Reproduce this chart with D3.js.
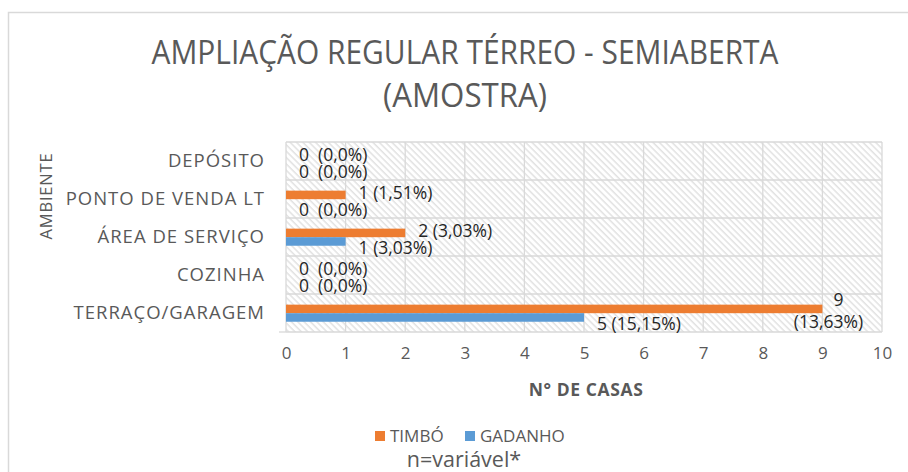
<!DOCTYPE html>
<html>
<head>
<meta charset="utf-8">
<script src="https://cdn.jsdelivr.net/npm/d3@7"></script>
<style>
  body { margin: 0; background: #fff; }
  text { font-family: "Open Sans", sans-serif; }
</style>
</head>
<body>
<div id="chart"></div>
<script>
/* DATA */
const categories = ["DEPÓSITO", "PONTO DE VENDA LT", "ÁREA DE SERVIÇO", "COZINHA", "TERRAÇO/GARAGEM"];
const series = ["TIMBÓ", "GADANHO"];
const timbo = [0, 1, 2, 0, 9];
const gadanho = [0, 0, 1, 0, 5];
const timboPct = ["0,0%", "1,51%", "3,03%", "0,0%", "13,63%"];
const gadanhoPct = ["0,0%", "0,0%", "3,03%", "0,0%", "15,15%"];
const xTicks = [0, 1, 2, 3, 4, 5, 6, 7, 8, 9, 10];

/* CONSTANTS */
const width = 908, height = 472;
const margin = { top: 142, left: 286, right: 26, bottom: 140 };
const colors = { "TIMBÓ": "#ED7D31", "GADANHO": "#5B9BD5" };
const textColor = "#595959";
const gridColor = "#d9d9d9";

const svg = d3.select("#chart").append("svg")
  .attr("width", width)
  .attr("height", height);

// hatch pattern for plot background
const defs = svg.append("defs");
defs.append("pattern")
  .attr("id", "hatch")
  .attr("patternUnits", "userSpaceOnUse")
  .attr("width", 4.5)
  .attr("height", 4.5)
  .attr("patternTransform", "rotate(-45)")
  .append("line")
  .attr("x1", 1).attr("x2", 1)
  .attr("y1", 0).attr("y2", 4.5)
  .attr("stroke", "#d3d3d3")
  .attr("stroke-width", 1);

// outer frame
svg.append("rect")
  .attr("x", 8.5).attr("y", 12.5)
  .attr("width", 930).attr("height", 500)
  .attr("fill", "none")
  .attr("stroke", gridColor)
  .attr("stroke-width", 1.5);

const x = d3.scaleLinear()
  .domain([0, 10])
  .range([margin.left, width - margin.right]);

const y = d3.scaleBand()
  .domain(categories)
  .range([margin.top, height - margin.bottom])
  .padding(0);

const bw = y.bandwidth();
const ySub = d3.scaleBand()
  .domain(series)
  .range([bw * 0.28, bw * 0.73]);

// plot background
svg.append("rect")
  .attr("x", x(0)).attr("y", y.range()[0])
  .attr("width", x(10) - x(0))
  .attr("height", y.range()[1] - y.range()[0])
  .attr("fill", "url(#hatch)");

// grid
svg.append("g")
  .selectAll("line")
  .data(xTicks)
  .join("line")
  .attr("x1", d => x(d)).attr("x2", d => x(d))
  .attr("y1", y.range()[0]).attr("y2", y.range()[1])
  .attr("stroke", gridColor)
  .attr("stroke-width", 1.3);

const hLines = categories.map(c => y(c)).concat([y.range()[1]]);
svg.append("g")
  .selectAll("line")
  .data(hLines)
  .join("line")
  .attr("x1", x(0)).attr("x2", x(10))
  .attr("y1", d => d).attr("y2", d => d)
  .attr("stroke", gridColor)
  .attr("stroke-width", 1.3);

// baseline extends left a bit
svg.append("line")
  .attr("x1", x(0) - 7).attr("x2", x(0))
  .attr("y1", y.range()[1]).attr("y2", y.range()[1])
  .attr("stroke", gridColor).attr("stroke-width", 1.3);

// rows
const rows = categories.map((c, i) => ({
  cat: c,
  vals: [
    { s: "TIMBÓ", v: timbo[i], pct: timboPct[i] },
    { s: "GADANHO", v: gadanho[i], pct: gadanhoPct[i] }
  ]
}));

const groups = svg.append("g")
  .selectAll("g")
  .data(rows)
  .join("g")
  .attr("transform", d => `translate(0,${y(d.cat)})`);

groups.selectAll("rect")
  .data(d => d.vals)
  .join("rect")
  .attr("x", x(0))
  .attr("y", d => ySub(d.s))
  .attr("width", d => x(d.v) - x(0))
  .attr("height", ySub.bandwidth())
  .attr("fill", d => colors[d.s]);

// data labels
groups.selectAll("text.lbl")
  .data(d => d.vals)
  .join("text")
  .attr("class", "lbl")
  .attr("fill", "#262626")
  .style("font-size", "17.5px")
  .each(function (d) {
    const t = d3.select(this);
    const cy = ySub(d.s) + ySub.bandwidth() / 2 + (d.s === "TIMBÓ" ? -2 : 6.5);
    const txt = `${d.v}${d.v === 0 ? "  " : " "}(${d.pct})`;
    if (x(d.v) + 14 + 80 > x(10)) {
      // wrapped label
      t.attr("text-anchor", "middle");
      t.append("tspan").attr("x", x(d.v) + 16).attr("y", cy - 7).attr("dy", "0.35em").text(d.v);
      t.append("tspan").attr("x", x(d.v) + 6).attr("y", cy + 15).attr("dy", "0.35em").text(`(${d.pct})`);
    } else {
      t.attr("x", x(d.v) + 13).attr("y", cy).attr("dy", "0.35em")
        .style("white-space", "pre")
        .attr("xml:space", "preserve")
        .text(txt);
    }
  });

// category labels
svg.append("g")
  .selectAll("text")
  .data(categories)
  .join("text")
  .attr("x", 265)
  .attr("y", d => y(d) + bw / 2)
  .attr("dy", "0.35em")
  .attr("text-anchor", "end")
  .attr("fill", textColor)
  .style("font-size", "18.5px")
  .style("letter-spacing", "1px")
  .text(d => d);

// x axis
const xAxis = d3.axisBottom(x).tickValues(xTicks).tickSize(0).tickPadding(15);
const gx = svg.append("g")
  .attr("transform", `translate(0,${y.range()[1]})`)
  .call(xAxis);
gx.select(".domain").remove();
gx.selectAll("text")
  .attr("fill", textColor)
  .style("font-family", "Open Sans, sans-serif")
  .style("font-size", "17px");

// axis titles
svg.append("text")
  .attr("x", 586).attr("y", 390)
  .attr("dy", "0.35em")
  .attr("text-anchor", "middle")
  .attr("fill", textColor)
  .style("font-size", "17.5px")
  .style("font-weight", "bold")
  .style("letter-spacing", "0.6px")
  .text("N° DE CASAS");

svg.append("text")
  .attr("transform", "translate(46,196) rotate(-90)")
  .attr("dy", "0.35em")
  .attr("text-anchor", "middle")
  .attr("fill", textColor)
  .style("font-size", "16.5px")
  .style("letter-spacing", "0.8px")
  .text("AMBIENTE");

// title
const title = svg.append("g").attr("fill", textColor).style("font-size", "33px");
title.append("text")
  .attr("x", 465).attr("y", 52).attr("dy", "0.35em")
  .attr("text-anchor", "middle")
  .attr("textLength", 627)
  .attr("lengthAdjust", "spacingAndGlyphs")
  .text("AMPLIAÇÃO REGULAR TÉRREO - SEMIABERTA");
title.append("text")
  .attr("x", 465).attr("y", 95).attr("dy", "0.35em")
  .attr("text-anchor", "middle")
  .attr("textLength", 164)
  .attr("lengthAdjust", "spacingAndGlyphs")
  .text("(AMOSTRA)");

// legend
const legendX = [375, 465];
const legend = svg.append("g")
  .selectAll("g")
  .data(series)
  .join("g")
  .attr("transform", (d, i) => `translate(${legendX[i]},436)`);
legend.append("rect")
  .attr("x", 0).attr("y", -5)
  .attr("width", 10).attr("height", 10)
  .attr("fill", d => colors[d]);
legend.append("text")
  .attr("x", 15).attr("dy", "0.35em")
  .attr("fill", textColor)
  .style("font-size", "17px")
  .text(d => d);

svg.append("text")
  .attr("x", 464).attr("y", 459).attr("dy", "0.35em")
  .attr("text-anchor", "middle")
  .attr("fill", textColor)
  .style("font-size", "21.5px")
  .text("n=variável*");
</script>
</body>
</html>
